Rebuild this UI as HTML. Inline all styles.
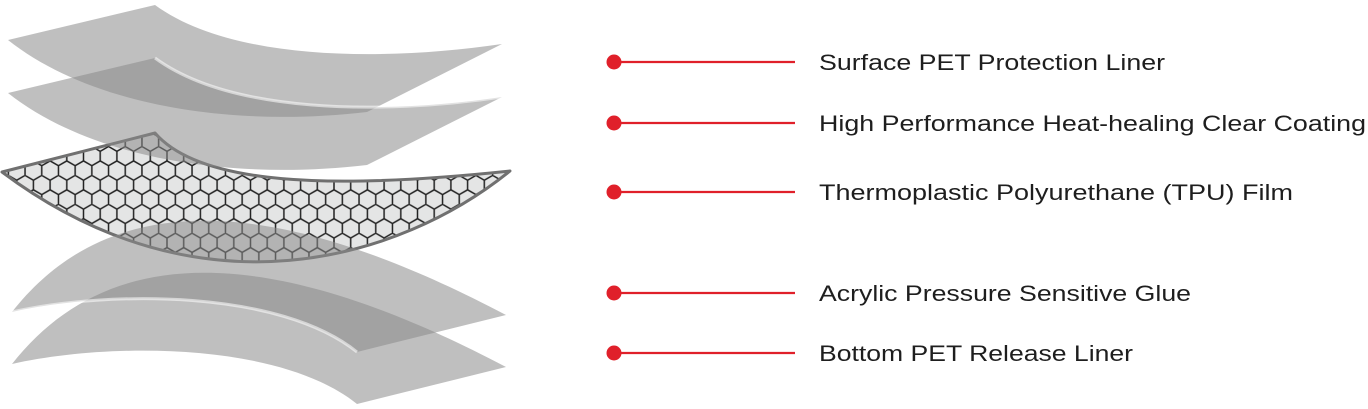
<!DOCTYPE html>
<html><head><meta charset="utf-8"><style>
html,body{margin:0;padding:0;background:#fff;width:1368px;height:409px;overflow:hidden}
svg{position:absolute;left:0;top:0}
.t{font-family:"Liberation Sans",sans-serif;font-size:22px;fill:#1e1e1e}
</style></head><body>
<svg width="1368" height="409" viewBox="0 0 1368 409">
<defs>
<pattern id="hex" width="16.7" height="28.9" patternUnits="userSpaceOnUse" x="0" y="2">
<rect width="16.7" height="28.9" fill="#e4e5e5"/>
<path d="M0,4.8 L8.35,0 L16.7,4.8 M8.35,0 L8.35,-5 M0,4.8 L0,14.4 M16.7,4.8 L16.7,14.4 M0,14.4 L8.35,19.2 L16.7,14.4 M8.35,19.2 L8.35,28.9" fill="none" stroke="#222" stroke-width="1.5"/>
</pattern>
<clipPath id="tpu"><path d="M2,172 L155,133 C200,185 330,190 510,171 C400,260 200,320 2,172 Z"/></clipPath>
</defs>
<rect x="0" y="120" width="520" height="160" fill="url(#hex)" clip-path="url(#tpu)"/>
<path d="M2,172 L155,133 C200,185 330,190 510,171 C400,260 200,320 2,172 Z" fill="none" stroke="#707070" stroke-width="3" stroke-linejoin="round"/>
<g fill="#8a8a8a" fill-opacity="0.55">
<path d="M8,40 L155,5 C230,60 380,62 502,44 L367,112 C230,128 90,105 8,40 Z"/>
<path d="M8,93 L155,58 C230,113 380,115 502,97 L367,165 C230,181 90,158 8,93 Z"/>
<path d="M12,312 C100,200 250,180 506,315 L357,352 C280,290 110,290 12,312 Z"/>
<path d="M12,364 C100,252 250,232 506,367 L357,404 C280,342 110,342 12,364 Z"/>
</g>
<path d="M155,58 C230,113 380,115 502,97" fill="none" stroke="#fff" stroke-opacity="0.55" stroke-width="3"/>
<path d="M357,352 C280,290 110,290 12,312" fill="none" stroke="#fff" stroke-opacity="0.55" stroke-width="3"/>
<g stroke="#e0202a" stroke-width="2.2">
<line x1="614" y1="62" x2="795" y2="62"/>
<line x1="614" y1="123" x2="795" y2="123"/>
<line x1="614" y1="192" x2="795" y2="192"/>
<line x1="614" y1="293" x2="795" y2="293"/>
<line x1="614" y1="353" x2="795" y2="353"/>
</g>
<g fill="#e0202a">
<circle cx="614" cy="62" r="7.5"/>
<circle cx="614" cy="123" r="7.5"/>
<circle cx="614" cy="192" r="7.5"/>
<circle cx="614" cy="293" r="7.5"/>
<circle cx="614" cy="353" r="7.5"/>
</g>
<text class="t" x="819" y="70" textLength="346" lengthAdjust="spacingAndGlyphs">Surface PET Protection Liner</text>
<text class="t" x="819" y="131" textLength="547" lengthAdjust="spacingAndGlyphs">High Performance Heat-healing Clear Coating</text>
<text class="t" x="819" y="200" textLength="474" lengthAdjust="spacingAndGlyphs">Thermoplastic Polyurethane (TPU) Film</text>
<text class="t" x="819" y="301" textLength="372" lengthAdjust="spacingAndGlyphs">Acrylic Pressure Sensitive Glue</text>
<text class="t" x="819" y="361" textLength="314" lengthAdjust="spacingAndGlyphs">Bottom PET Release Liner</text>
</svg>
</body></html>
